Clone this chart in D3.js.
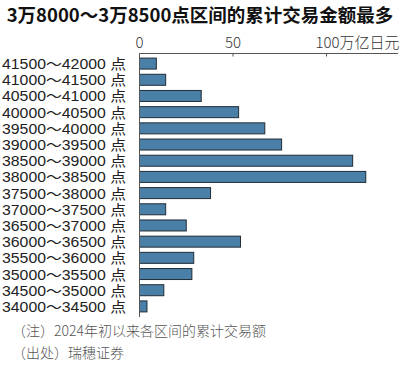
<!DOCTYPE html>
<html><head><meta charset="utf-8">
<script src="https://cdn.jsdelivr.net/npm/d3@7"></script>
<style>body{margin:0;background:#fff;} svg{display:block;}</style>
</head><body>
<svg id="c" width="400" height="368"></svg>
<script>
const title = "3万8000～3万8500点区间的累计交易金额最多";
const categories = ["41500～42000 点","41000～41500 点","40500～41000 点","40000～40500 点","39500～40000 点","39000～39500 点","38500～39000 点","38000～38500 点","37500～38000 点","37000～37500 点","36500～37000 点","36000～36500 点","35500～36000 点","35000～35500 点","34500～35000 点","34000～34500 点"];
const values = [9, 14, 33, 53, 67, 76, 114, 121, 38, 14, 25, 54, 29, 28, 13, 4];
const tickValues = [0, 50, 100];
const tickLabels = ["0", "50", "100万亿日元"];
const notes = ["（注）2024年初以来各区间的累计交易额", "（出处）瑞穗证券"];

const font = "'Noto Sans CJK SC','Noto Sans',sans-serif";
const labelFont = "'Liberation Sans','Noto Sans CJK SC',sans-serif";
const svg = d3.select("#c");
const x = d3.scaleLinear().domain([0, 100]).range([139.5, 326.5]);
const y = d3.scaleBand().domain(categories).range([55.5, 314.5]).paddingInner(0.32).paddingOuter(0.16);

svg.append("text").attr("x", 200).attr("y", 22).attr("text-anchor", "middle")
  .attr("font-family", font).attr("font-weight", "bold").attr("font-size", 18.5).attr("fill", "#111").text(title);

// top axis
const axisY = 53.5;
svg.append("line").attr("x1", x(0)).attr("x2", 398).attr("y1", axisY).attr("y2", axisY).attr("stroke", "#555").attr("stroke-width", 1);
svg.selectAll(".tk").data(tickValues).join("line").attr("x1", d => x(d)).attr("x2", d => x(d))
  .attr("y1", axisY).attr("y2", axisY + 3).attr("stroke", "#555");
svg.selectAll(".tl").data(tickValues).join("text")
  .attr("x", (d, i) => i === 2 ? x(d) - 11 : x(d)).attr("y", 48)
  .attr("text-anchor", (d, i) => i === 2 ? "start" : "middle")
  .attr("font-family", font).attr("font-weight", 300).attr("font-size", 15).attr("fill", "#333")
  .text((d, i) => tickLabels[i]);

// bars
svg.selectAll(".bar").data(values).join("rect")
  .attr("x", x(0)).attr("y", (d, i) => y(categories[i]))
  .attr("width", d => x(d) - x(0)).attr("height", y.bandwidth())
  .attr("fill", "#4a7fa8").attr("stroke", "#222c36").attr("stroke-width", 1);

// left axis line
svg.append("line").attr("x1", x(0)).attr("x2", x(0)).attr("y1", axisY).attr("y2", 317).attr("stroke", "#555");

// category labels
svg.selectAll(".cl").data(categories).join("text")
  .attr("x", 2).attr("y", d => y(d) + y.bandwidth() / 2 + 5.5)
  .attr("font-family", labelFont).attr("font-size", 14).attr("fill", "#222")
  .attr("textLength", 124).attr("lengthAdjust", "spacingAndGlyphs")
  .text(d => d);

// notes
svg.selectAll(".nt").data(notes).join("text")
  .attr("x", 12).attr("y", (d, i) => 336 + i * 22)
  .attr("font-family", font).attr("font-weight", 300).attr("font-size", 14).attr("fill", "#555")
  .text(d => d);
</script>
</body></html>
